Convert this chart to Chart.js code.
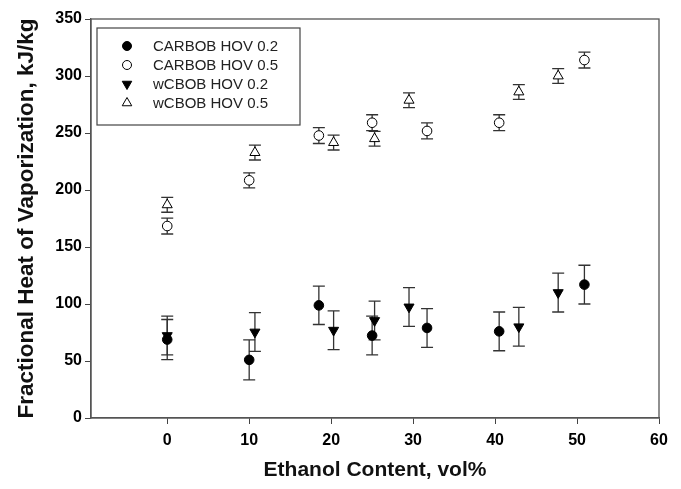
<!DOCTYPE html>
<html lang="en">
<head>
    <meta charset="UTF-8">
    <title>Fractional Heat of Vaporization</title>
    <script src="https://cdn.jsdelivr.net/npm/chart.js"></script>
    <style>
        html, body { margin: 0; padding: 0; background: #fff; }
        #wrap { width: 681px; height: 489px; }
    </style>
</head>
<body>
    <div id="wrap"><canvas id="hovChart"></canvas></div>

    <script>
        // ethanol content (vol%) for each fuel family
        const carbobX = [0, 10, 18.5, 25, 31.7, 40.5, 50.9];
        const wcbobX = [0, 10.7, 20.3, 25.3, 29.5, 42.9, 47.7];

        // fractional HOV, kJ/kg
        const carbob02 = [68.8, 51, 98.8, 72.3, 79, 76, 117];
        const carbob02Err = [17.6, 17.6, 16.8, 17, 17, 17, 17];
        const carbob05 = [168.4, 208.5, 247.8, 259, 251.8, 259, 314];
        const carbob05Err = [7, 6.6, 7, 7, 7, 7, 7];
        const wcbob02 = [72.3, 75.4, 77, 85.5, 97.4, 80, 110];
        const wcbob02Err = [17, 17, 17, 17, 17, 17, 17];
        const wcbob05 = [187, 232.8, 241.6, 245, 278.7, 286, 300];
        const wcbob05Err = [6.5, 6.5, 6.5, 6.5, 6.5, 6.5, 6.5];

        const seriesLabels = ['CARBOB HOV 0.2', 'CARBOB HOV 0.5', 'wCBOB HOV 0.2', 'wCBOB HOV 0.5'];
        const xTicks = [0, 10, 20, 30, 40, 50, 60];

        const pts = (xs, ys) => xs.map((x, i) => ({ x: x, y: ys[i] }));

        function marker(style, filled, rot) {
            return {
                pointStyle: style,
                rotation: rot || 0,
                backgroundColor: filled ? '#000' : '#fff',
                borderColor: '#000',
                borderWidth: 1,
                pointRadius: style === 'circle' ? 4.8 : 5.8,
                pointHoverRadius: style === 'circle' ? 4.8 : 5.8
            };
        }

        const datasets = [
            Object.assign({ label: seriesLabels[0], data: pts(carbobX, carbob02), err: carbob02Err }, marker('circle', true)),
            Object.assign({ label: seriesLabels[1], data: pts(carbobX, carbob05), err: carbob05Err }, marker('circle', false)),
            Object.assign({ label: seriesLabels[2], data: pts(wcbobX, wcbob02), err: wcbob02Err }, marker('triangle', true, 180)),
            Object.assign({ label: seriesLabels[3], data: pts(wcbobX, wcbob05), err: wcbob05Err }, marker('triangle', false))
        ];

        // vertical error bars with caps, drawn under the markers
        const errorBars = {
            id: 'errorBars',
            beforeDatasetsDraw(chart) {
                const ctx = chart.ctx;
                const yScale = chart.scales.y;
                ctx.save();
                ctx.strokeStyle = '#333';
                ctx.lineWidth = 1.3;
                chart.data.datasets.forEach((ds, di) => {
                    const meta = chart.getDatasetMeta(di);
                    meta.data.forEach((pt, i) => {
                        const v = ds.data[i].y, e = ds.err[i];
                        const top = yScale.getPixelForValue(v + e);
                        const bot = yScale.getPixelForValue(v - e);
                        ctx.beginPath();
                        ctx.moveTo(pt.x, top); ctx.lineTo(pt.x, bot);
                        ctx.moveTo(pt.x - 6, top); ctx.lineTo(pt.x + 6, top);
                        ctx.moveTo(pt.x - 6, bot); ctx.lineTo(pt.x + 6, bot);
                        ctx.stroke();
                    });
                });
                ctx.restore();
            }
        };

        // plot frame plus boxed legend in the upper left corner
        const frameLegend = {
            id: 'frameLegend',
            afterDraw(chart) {
                const ctx = chart.ctx;
                const a = chart.chartArea;
                ctx.save();
                ctx.strokeStyle = '#555';
                ctx.lineWidth = 1.3;
                ctx.strokeRect(a.left, a.top, a.right - a.left, a.bottom - a.top);

                const bx = a.left + 6, by = a.top + 9;
                ctx.strokeStyle = '#444';
                ctx.lineWidth = 1.2;
                ctx.strokeRect(bx, by, 203, 97);

                ctx.font = '15px "Liberation Sans", Arial, sans-serif';
                ctx.textBaseline = 'middle';
                chart.data.datasets.forEach((ds, i) => {
                    const mx = bx + 30, my = by + 18 + i * 19;
                    ctx.fillStyle = ds.backgroundColor;
                    ctx.strokeStyle = '#000';
                    ctx.lineWidth = 1;
                    ctx.beginPath();
                    if (ds.pointStyle === 'circle') {
                        ctx.arc(mx, my, 4.5, 0, Math.PI * 2);
                    } else {
                        const r = 5.5, s = ds.rotation ? -1 : 1;
                        ctx.moveTo(mx, my - s * r);
                        ctx.lineTo(mx + r * 0.866, my + s * r * 0.5);
                        ctx.lineTo(mx - r * 0.866, my + s * r * 0.5);
                        ctx.closePath();
                    }
                    ctx.fill();
                    ctx.stroke();
                    ctx.fillStyle = '#222';
                    ctx.fillText(ds.label, bx + 56, my + 1);
                });
                ctx.restore();
            }
        };

        const tickFont = { family: '"Liberation Sans", Arial, sans-serif', size: 16, weight: 'bold' };
        const xTitleFont = { family: '"Liberation Sans", Arial, sans-serif', size: 21, weight: 'bold' };
        const yTitleFont = { family: '"Liberation Sans", Arial, sans-serif', size: 22.5, weight: 'bold' };

        new Chart(document.getElementById('hovChart'), {
            type: 'scatter',
            data: { datasets: datasets },
            plugins: [errorBars, frameLegend],
            options: {
                responsive: true,
                maintainAspectRatio: false,
                animation: false,
                layout: { padding: { left: 0, right: 22, top: 19, bottom: 0 } },
                plugins: {
                    legend: { display: false },
                    tooltip: { enabled: false }
                },
                scales: {
                    x: {
                        type: 'linear',
                        min: -9.3,
                        max: 60,
                        afterBuildTicks: (s) => { s.ticks = xTicks.map(v => ({ value: v })); },
                        afterFit: (s) => { s.height = 71; },
                        grid: { display: true, drawOnChartArea: false, tickLength: 6, tickColor: '#444', color: '#444' },
                        border: { color: '#555', width: 1.3 },
                        ticks: { color: '#000', font: tickFont, padding: 7 },
                        title: { display: true, text: 'Ethanol Content, vol%', color: '#111', font: xTitleFont, padding: { top: 4, bottom: 6 } }
                    },
                    y: {
                        min: 0,
                        max: 350,
                        afterFit: (s) => { s.width = 91; },
                        grid: { display: true, drawOnChartArea: false, tickLength: 6, tickColor: '#444', color: '#444' },
                        border: { color: '#555', width: 1.3 },
                        ticks: { stepSize: 50, color: '#000', font: tickFont, padding: 3 },
                        title: { display: true, text: 'Fractional Heat of Vaporization, kJ/kg', color: '#111', font: yTitleFont, padding: { top: 13, bottom: 4 } }
                    }
                }
            }
        });
    </script>
</body>
</html>
